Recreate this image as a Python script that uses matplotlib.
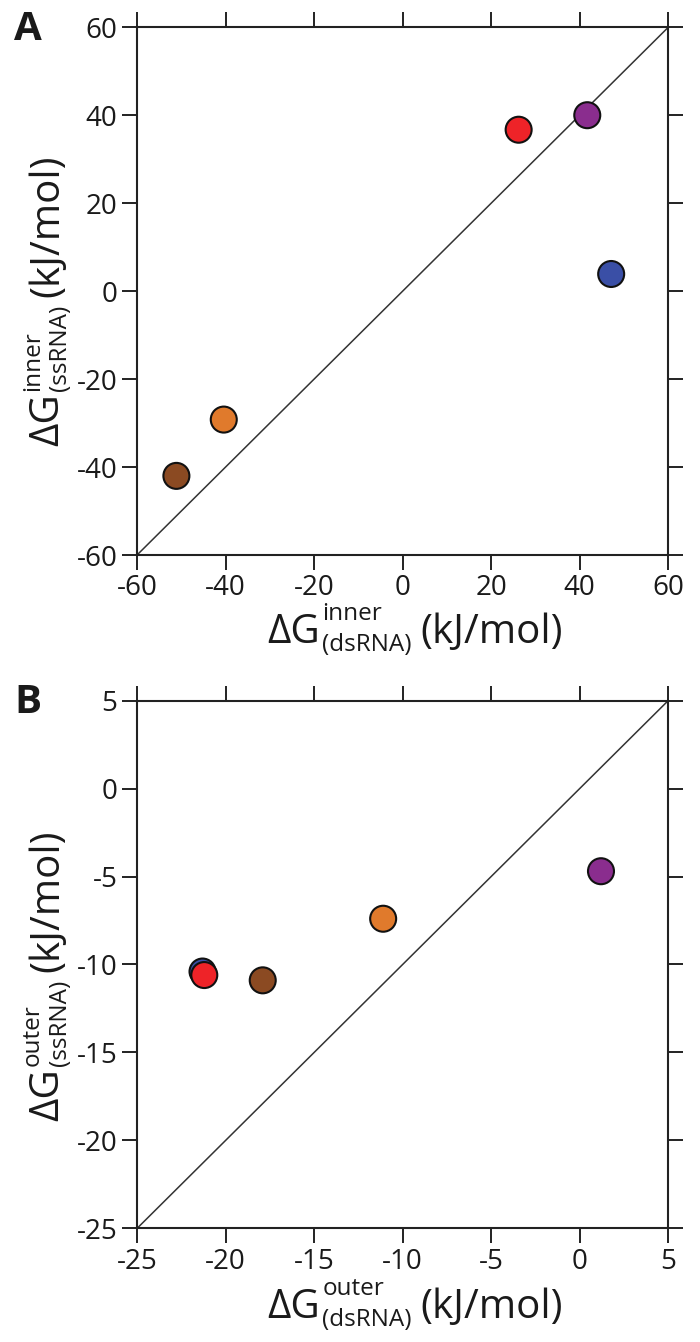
import numpy as np
import matplotlib.pyplot as plt

plt.rcParams['font.family'] = ['Open Sans', 'DejaVu Sans']

# series, blue first so it sits under red in panel B
names = ['blue', 'brown', 'orange', 'purple', 'red']
colors = ['#3a4fa6', '#8b4a22', '#e07a2c', '#8a2d8e', '#ee2328']

inner_ds = [47.1, -51.1, -40.4, 41.7, 26.2]
inner_ss = [3.9, -42.0, -29.2, 40.0, 36.7]

outer_ds = [-21.3, -17.9, -11.1, 1.2, -21.2]
outer_ss = [-10.4, -10.9, -7.4, -4.7, -10.6]

ticks_a = [-60, -40, -20, 0, 20, 40, 60]
ticks_b = [-25, -20, -15, -10, -5, 0, 5]

W, H = 700, 1342
fig = plt.figure(figsize=(W / 100, H / 100), dpi=100)
axA = fig.add_axes([0.1957, 0.5864, 0.759, 0.3933])
axB = fig.add_axes([0.1957, 0.0846, 0.759, 0.3934])
renderer = fig.canvas.get_renderer()

MAIN, SMALL = 29, 17.5


def width(s, size):
    t = fig.text(0, 0, s, fontsize=size)
    w = t.get_window_extent(renderer).width
    t.remove()
    return w


def label(which, sub, center, base, rot, sup_up):
    # stacked super/subscript label built from separate texts (pixel coords, origin bottom-left)
    w_dg = width('\u0394G', MAIN)
    w_s = max(width(which, SMALL), width(sub, SMALL))
    w_u = width('(kJ/mol)', MAIN)
    total = w_dg + 2 + w_s + 8 + w_u
    u0 = center - total / 2

    def put(s, size, u, d):
        if rot == 0:
            x, y = u, base + d
        else:
            x, y = base - d, u
        fig.text(x / W, y / H, s, fontsize=size, rotation=rot, rotation_mode='anchor',
                 ha='left', va='baseline', color='#1a1a1a')

    put('\u0394G', MAIN, u0, 0)
    put(which, SMALL, u0 + w_dg + 2, sup_up)
    put(sub, SMALL, u0 + w_dg + 2, -8)
    put('(kJ/mol)', MAIN, u0 + w_dg + 2 + w_s + 8, 0)


def style(ax, ticks, xs, ys):
    lo, hi = ticks[0], ticks[-1]
    ax.plot([lo, hi], [lo, hi], c='#333333', lw=1.1, zorder=1)
    ax.scatter(xs, ys, s=350, c=colors, edgecolors='#111111', linewidths=1.5, zorder=3)
    ax.set_xlim(lo, hi)
    ax.set_ylim(lo, hi)
    ax.set_xticks(ticks)
    ax.set_yticks(ticks)
    ax.set_xticklabels([str(t) for t in ticks])
    ax.set_yticklabels([str(t) for t in ticks])
    ax.tick_params(direction='out', length=11, width=1.4, labelsize=20,
                   top=True, right=True, pad=3, color='#222222', labelcolor='#1a1a1a')
    for s in ax.spines.values():
        s.set_linewidth(1.5)
        s.set_color('#222222')


style(axA, ticks_a, inner_ds, inner_ss)
style(axB, ticks_b, outer_ds, outer_ss)

xc = 415
label('inner', '(dsRNA)', xc, H - 643, 0, 23)
label('inner', '(ssRNA)', H - 300, 58, 90, 19)
label('outer', '(dsRNA)', xc, H - 1318, 0, 23)
label('outer', '(ssRNA)', H - 975, 58, 90, 19)

fig.text(0.02, 1 - 40 / H, 'A', fontsize=29, fontweight='bold', va='baseline', color='#1a1a1a')
fig.text(0.02, 1 - 713 / H, 'B', fontsize=29, fontweight='bold', va='baseline', color='#1a1a1a')

fig.savefig('out.png', dpi=100)
